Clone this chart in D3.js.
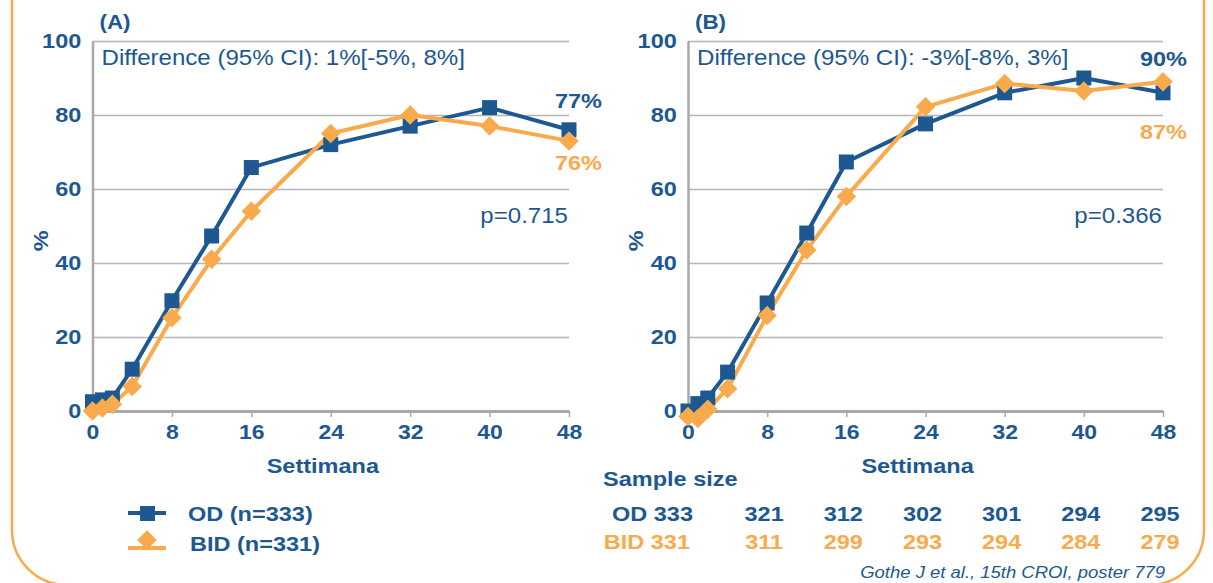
<!DOCTYPE html>
<html>
<head>
<meta charset="utf-8">
<script src="https://cdn.jsdelivr.net/npm/d3@7"></script>
<style>
  html, body { margin: 0; padding: 0; background: #ffffff; }
  svg { display: block; }
  text { font-family: "Liberation Sans", Arial, Helvetica, sans-serif; }
</style>
</head>
<body>
<svg id="chart" width="1213" height="583"></svg>
<script>
// Weeks of follow-up at which response was measured
const weeks = [0, 1, 2, 4, 8, 12, 16, 24, 32, 40, 48];

// Panel A: % responders by arm
const odA  = [2.5, 3, 3.5, 11.3, 29.8, 47.3, 65.8, 72, 77, 82, 76];
const bidA = [0, 0.8, 1.8, 6.6, 25.2, 41, 54, 75, 80, 77, 73];

// Panel B: % responders by arm
const odB  = [0, 2, 3.5, 10.5, 29.2, 48.1, 67.3, 77.6, 86, 90, 86];
const bidB = [-1.5, -2, 0.5, 6, 25.8, 43.5, 58, 82.2, 88.5, 86.5, 89];

// Axis ticks
const xTicks = [0, 8, 16, 24, 32, 40, 48];
const yTicks = [0, 20, 40, 60, 80, 100];

// Panel annotations
const panelTags   = ["(A)", "(B)"];
const diffLabels  = ["Difference (95% CI): 1%[-5%, 8%]", "Difference (95% CI): -3%[-8%, 3%]"];
const pLabels     = ["p=0.715", "p=0.366"];
const rateLabelOD  = ["77%", "90%"];   // overall response rate, OD arm
const rateLabelBID = ["76%", "87%"];   // overall response rate, BID arm

// Sample size table
const sampleWeeks = [0, 8, 16, 24, 32, 40, 48];
const sampleOD  = [333, 321, 312, 302, 301, 294, 295];
const sampleBID = [331, 311, 299, 293, 294, 284, 279];

// Legend
const legendLabels = ["OD (n=333)", "BID (n=331)"];
const citation = "Gothe J et al., 15th CROI, poster 779";

const BLUE = "#1d5891";
const ORANGE = "#f9aa4c";
const GRID = "#b5b5b5";
const AXIS = "#a9a9a9";
const SX = 1.12; // horizontal stretch applied to the lettering

const svg = d3.select("#chart");

// Rounded orange frame around the figure
svg.append("rect")
  .attr("x", 12).attr("y", -80)
  .attr("width", 1192).attr("height", 665)
  .attr("rx", 55).attr("ry", 55)
  .attr("fill", "none")
  .attr("stroke", ORANGE)
  .attr("stroke-width", 2.5);

function label(parent, x, y, str, opt) {
  opt = opt || {};
  return parent.append("text")
    .attr("transform", `translate(${x},${y}) scale(${SX},1)`)
    .attr("text-anchor", opt.anchor || "start")
    .attr("font-size", opt.size || 20)
    .attr("font-weight", opt.weight || "bold")
    .attr("font-style", opt.style || "normal")
    .attr("fill", opt.color || BLUE)
    .text(str);
}

const y = d3.scaleLinear().domain([0, 100]).range([411, 41]);

// Plot extents and placement of the rate call-outs for each panel
const panels = [
  { x0: 92.5, x1: 569,  od: odA, bid: bidA, rateX: 602,  odRateY: 108, bidRateY: 170 },
  { x0: 688,  x1: 1163, od: odB, bid: bidB, rateX: 1187, odRateY: 66,  bidRateY: 139 }
];

panels.forEach((p, i) => {
  const x = d3.scaleLinear().domain([0, 48]).range([p.x0, p.x1]);
  const g = svg.append("g");

  // Horizontal gridlines
  g.append("g")
    .attr("transform", `translate(${p.x0},0)`)
    .call(d3.axisLeft(y).tickValues(yTicks.slice(1)).tickSize(-(p.x1 - p.x0)).tickFormat(""))
    .call(s => s.select(".domain").remove())
    .call(s => s.selectAll("line").attr("stroke", GRID).attr("stroke-width", 1.5));

  // Y axis
  const ya = g.append("g")
    .attr("transform", `translate(${p.x0},0)`)
    .call(d3.axisLeft(y).tickValues(yTicks).tickSize(0).tickPadding(10).tickFormat(d3.format("d")));
  ya.select(".domain").attr("stroke", AXIS).attr("stroke-width", 2.5);
  ya.selectAll("text")
    .attr("font-size", 21).attr("font-weight", "bold").attr("fill", BLUE)
    .attr("font-family", "Liberation Sans, Arial, sans-serif")
    .attr("transform", `scale(${SX},1)`);

  // X axis
  const xa = g.append("g")
    .attr("transform", `translate(0,${y(0)})`)
    .call(d3.axisBottom(x).tickValues(xTicks).tickSizeInner(6).tickSizeOuter(0).tickPadding(7));
  xa.select(".domain").attr("stroke", AXIS).attr("stroke-width", 3);
  xa.selectAll("line").attr("stroke", AXIS).attr("stroke-width", 1.5);
  xa.selectAll("text")
    .attr("font-size", 20.5).attr("font-weight", "bold").attr("fill", BLUE)
    .attr("font-family", "Liberation Sans, Arial, sans-serif")
    .attr("transform", `scale(${SX},1)`);

  // Axis titles
  label(g, x(23.2), 473, "Settimana", { anchor: "middle", size: 21 });
  g.append("text")
    .attr("transform", `translate(${p.x0 - 45},${y(46)}) rotate(-90) scale(${SX},1)`)
    .attr("text-anchor", "middle")
    .attr("font-size", 21).attr("font-weight", "bold").attr("fill", BLUE)
    .text("%");

  // Panel tag and annotations
  label(g, p.x0 + 7, 29, panelTags[i], { size: 20 });
  label(g, p.x0 + 9, 65, diffLabels[i], { size: 21.5, weight: "normal" });
  label(g, p.x1 - 1, 223, pLabels[i], { anchor: "end", size: 21.5, weight: "normal" });

  // Series lines and markers
  const line = d3.line().x((d, k) => x(weeks[k])).y(d => y(d));
  [{ vals: p.od, color: BLUE }, { vals: p.bid, color: ORANGE }].forEach(s => {
    g.append("path")
      .datum(s.vals)
      .attr("d", line)
      .attr("fill", "none")
      .attr("stroke", s.color)
      .attr("stroke-width", 4)
      .attr("stroke-linejoin", "round");
  });
  g.selectAll(".sq")
    .data(p.od)
    .join("rect")
    .attr("x", (d, k) => x(weeks[k]) - 7.5)
    .attr("y", d => y(d) - 7.5)
    .attr("width", 15).attr("height", 15)
    .attr("fill", BLUE);
  g.selectAll(".dm")
    .data(p.bid)
    .join("path")
    .attr("transform", (d, k) => `translate(${x(weeks[k])},${y(d)}) rotate(45)`)
    .attr("d", d3.symbol().type(d3.symbolSquare).size(190))
    .attr("fill", ORANGE);

  // Overall response rates beside the week-48 points
  label(g, p.rateX, p.odRateY, rateLabelOD[i], { anchor: "end", size: 21 });
  label(g, p.rateX, p.bidRateY, rateLabelBID[i], { anchor: "end", size: 21, color: ORANGE });

  // Sample size table under panel B
  if (i === 1) {
    label(g, 603, 486, "Sample size", { size: 21 });
    sampleWeeks.forEach((w, k) => {
      const cx = x(w);
      if (k === 0) {
        label(g, cx + 5, 521, "OD " + sampleOD[k], { anchor: "end", size: 21 });
        label(g, cx + 2, 549, "BID " + sampleBID[k], { anchor: "end", size: 21, color: ORANGE });
      } else {
        label(g, cx - 3, 521, sampleOD[k], { anchor: "middle", size: 21 });
        label(g, cx - 3, 549, sampleBID[k], { anchor: "middle", size: 21, color: ORANGE });
      }
    });
  }
});

// Legend
const lg = svg.append("g");
lg.append("line").attr("x1", 128).attr("x2", 166).attr("y1", 513).attr("y2", 513)
  .attr("stroke", BLUE).attr("stroke-width", 4);
lg.append("rect").attr("x", 140).attr("y", 506).attr("width", 15).attr("height", 15).attr("fill", BLUE);
label(lg, 188, 521, legendLabels[0], { size: 21 });
lg.append("line").attr("x1", 128).attr("x2", 166).attr("y1", 548).attr("y2", 548)
  .attr("stroke", ORANGE).attr("stroke-width", 4);
lg.append("path")
  .attr("transform", "translate(147,540) rotate(45)")
  .attr("d", d3.symbol().type(d3.symbolSquare).size(190))
  .attr("fill", ORANGE);
label(lg, 190, 551, legendLabels[1], { size: 21 });

// Source note
label(svg, 1165, 578, citation, { anchor: "end", size: 16.5, weight: "normal", style: "italic" });
</script>
</body>
</html>
